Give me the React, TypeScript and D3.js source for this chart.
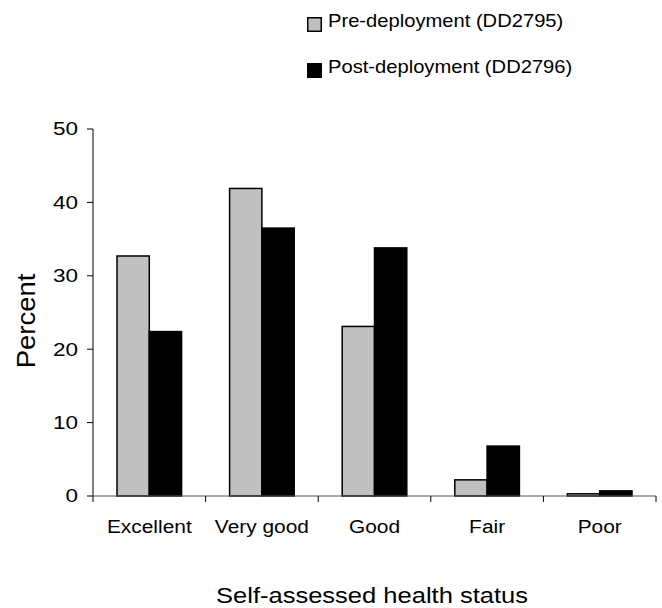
import React from 'react';
import * as d3 from 'd3';

// values
const categories = ['Excellent', 'Very good', 'Good', 'Fair', 'Poor'];
const seriesNames = ['Pre-deployment (DD2795)', 'Post-deployment (DD2796)'];
const preValues = [32.7, 41.9, 23.1, 2.2, 0.3];
const postValues = [22.4, 36.5, 33.8, 6.8, 0.7];
const yTicks = [0, 10, 20, 30, 40, 50];
const seriesColors = ['#c0c0c0', '#000000'];

const width = 662;
const height = 608;
const margin = { top: 129, right: 6, bottom: 112, left: 93 };
const font = 'Arial, "Liberation Sans", sans-serif';

// the original text renders a bit wider than Arial does here
const Label: React.FC<{
  x: number;
  y: number;
  size: number;
  sx?: number;
  anchor?: 'start' | 'middle' | 'end';
  dy?: string;
  rotate?: number;
  children: React.ReactNode;
}> = ({ x, y, size, sx = 1.15, anchor = 'start', dy, rotate = 0, children }) => (
  <text
    transform={`translate(${x},${y}) rotate(${rotate}) scale(${sx},1)`}
    textAnchor={anchor}
    dy={dy}
    fontSize={size}
    fill="#000"
  >
    {children}
  </text>
);

const App: React.FC = () => {
  const innerW = width - margin.left - margin.right;
  const innerH = height - margin.top - margin.bottom;

  const x = d3.scaleBand<string>().domain(categories).range([0, innerW]);
  const y = d3.scaleLinear().domain([0, 50]).range([innerH, 0]);
  const groupPad = 24;
  const inner = d3
    .scaleBand<number>()
    .domain([0, 1])
    .range([groupPad, x.bandwidth() - groupPad]);

  const series = [preValues, postValues];
  const tickEdges = d3.range(categories.length + 1).map((i) => i * x.bandwidth());

  return (
    <svg
      width={width}
      height={height}
      style={{ display: 'block', position: 'absolute', left: 0, top: 0 }}
      fontFamily={font}
    >
      <rect width={width} height={height} fill="#fff" />

      {/* legend */}
      <g transform="translate(307,17)">
        {seriesNames.map((name, i) => (
          <g key={name} transform={`translate(0,${i * 46})`}>
            <rect x={0.75} y={0.75} width={13.5} height={13.5} fill={seriesColors[i]} stroke="#000" strokeWidth={1.5} />
            <Label x={21} y={10} size={18} sx={1.12}>
              {name}
            </Label>
          </g>
        ))}
      </g>

      <g transform={`translate(${margin.left},${margin.top})`}>
        {/* bars */}
        {series.map((vals, si) =>
          vals.map((v, ci) => (
            <rect
              key={`${si}-${ci}`}
              x={(x(categories[ci]) as number) + (inner(si) as number)}
              y={y(v)}
              width={inner.bandwidth()}
              height={innerH - y(v)}
              fill={seriesColors[si]}
              stroke="#000"
              strokeWidth={1.5}
            />
          ))
        )}

        {/* y axis */}
        <line x1={0} x2={0} y1={0} y2={innerH} stroke="#000" strokeWidth={1} />
        {yTicks.map((t) => (
          <g key={t} transform={`translate(0,${y(t)})`}>
            <line x1={-6} x2={0} stroke="#000" strokeWidth={1} />
            <Label x={-15} y={0} size={18} sx={1.25} anchor="end" dy="0.36em">
              {t}
            </Label>
          </g>
        ))}

        {/* x axis */}
        <line x1={0} x2={innerW} y1={innerH} y2={innerH} stroke="#555" strokeWidth={1} />
        {tickEdges.map((e, i) => (
          <line key={i} x1={e} x2={e} y1={innerH} y2={innerH + 6} stroke="#000" strokeWidth={1} />
        ))}
        {categories.map((c) => (
          <Label key={c} x={(x(c) as number) + x.bandwidth() / 2} y={innerH + 37} size={19} sx={1.1} anchor="middle">
            {c}
          </Label>
        ))}
      </g>

      {/* axis titles */}
      <Label x={35} y={321} size={25} sx={1.1} anchor="middle" rotate={-90}>
        Percent
      </Label>
      <Label x={372} y={603} size={22} sx={1.16} anchor="middle">
        Self-assessed health status
      </Label>
    </svg>
  );
};

export default App;
